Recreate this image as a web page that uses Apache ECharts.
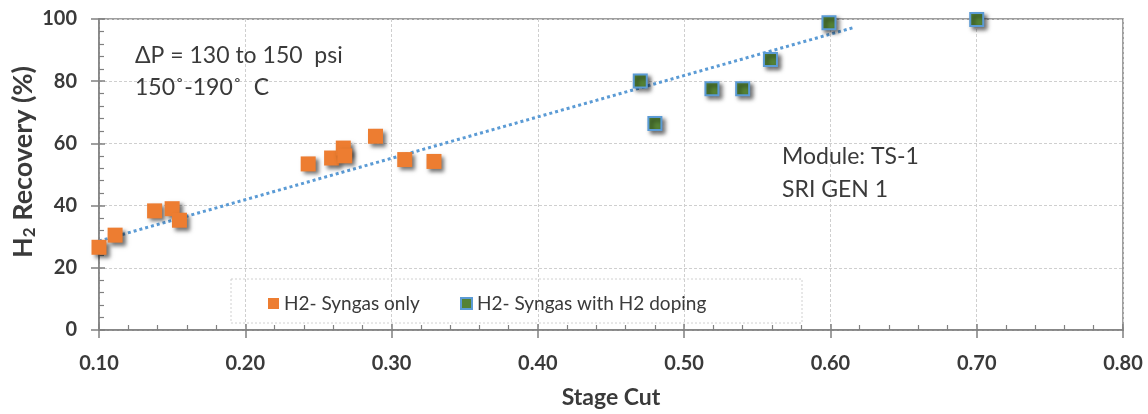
<!DOCTYPE html>
<html>
<head>
<meta charset="utf-8">
<script src="https://cdn.jsdelivr.net/npm/echarts@6/dist/echarts.min.js"></script>
<style>html,body{margin:0;padding:0;background:#fff;}#c{width:1148px;height:414px;}</style>
</head>
<body>
<div id="c"></div>
<script>
// Data
const syngasX = [0.100, 0.111, 0.138, 0.150, 0.155, 0.243, 0.259, 0.267, 0.268, 0.289, 0.309, 0.329];
const syngasY = [26.6, 30.5, 38.3, 39.0, 35.3, 53.4, 55.3, 58.5, 56.0, 62.3, 54.8, 54.2];
const dopingX = [0.470, 0.480, 0.519, 0.540, 0.559, 0.599, 0.700];
const dopingY = [80.1, 66.4, 77.6, 77.6, 87.0, 98.8, 99.8];
const trendX = [0.100, 0.617];
const trendY = [28.6, 97.4];
const xTicks = ['0.10','0.20','0.30','0.40','0.50','0.60','0.70','0.80'];
const yTicks = ['0','20','40','60','80','100'];

const zip = (a, b) => a.map((v, i) => [v, b[i]]);
const FONT = 'Lato';
const TXT = '#3a3a3a';
const AX = '#808080';
const shadow = {shadowBlur: 4, shadowColor: 'rgba(0,0,0,0.55)', shadowOffsetX: 3, shadowOffsetY: 3};

const chart = echarts.init(document.getElementById('c'));
chart.setOption({
  animation: false,
  backgroundColor: '#fff',
  grid: {left: 99, right: 25, top: 19, bottom: 82, show: true, borderColor: AX, borderWidth: 1.5, backgroundColor: 'transparent'},
  xAxis: [{
    type: 'value', min: 0.1, max: 0.8, interval: 0.1,
    axisLine: {show: true, lineStyle: {color: AX, width: 1.5}},
    axisTick: {show: true, inside: true, length: 6, lineStyle: {color: AX, width: 1.5}},
    minorTick: {show: true, splitNumber: 5, length: 5, lineStyle: {color: AX, width: 1.2}},
    splitLine: {show: true, lineStyle: {color: '#cfcfcf', type: [3, 2], width: 1}},
    axisLabel: {margin: 24, fontFamily: FONT, fontWeight: 'bold', fontSize: 20, color: TXT,
      formatter: v => xTicks[Math.round((v - 0.1) * 10)] || ''},
    name: 'Stage Cut', nameLocation: 'middle', nameGap: 56,
    nameTextStyle: {fontFamily: FONT, fontWeight: 'bold', fontSize: 23, color: TXT}
  }, {
    type: 'value', min: 0.1, max: 0.8, interval: 0.1, position: 'bottom',
    axisLine: {show: false}, axisLabel: {show: false}, splitLine: {show: false},
    axisTick: {show: true, inside: false, length: 8, lineStyle: {color: AX, width: 1.5}}
  }],
  yAxis: [{
    type: 'value', min: 0, max: 100, interval: 20,
    axisLine: {show: true, lineStyle: {color: AX, width: 1.5}},
    axisTick: {show: true, inside: true, length: 6, lineStyle: {color: AX, width: 1.5}},
    minorTick: {show: true, splitNumber: 5, length: 5, lineStyle: {color: AX, width: 1.2}},
    splitLine: {show: true, lineStyle: {color: '#cfcfcf', type: [3, 2], width: 1}},
    axisLabel: {margin: 22, fontFamily: FONT, fontWeight: 'bold', fontSize: 20, color: TXT,
      formatter: v => yTicks[Math.round(v / 20)] || ''}
  }, {
    type: 'value', min: 0, max: 100, interval: 20, position: 'left',
    axisLine: {show: false}, axisLabel: {show: false}, splitLine: {show: false},
    axisTick: {show: true, inside: false, length: 8, lineStyle: {color: AX, width: 1.5}}
  }],
  legend: [{
    data: ['H2- Syngas only'], left: 268, top: 294, padding: 0,
    icon: 'rect', itemWidth: 11, itemHeight: 11,
    itemStyle: {shadowBlur: 0, shadowOffsetX: 0, shadowOffsetY: 0},
    textStyle: {fontFamily: FONT, fontSize: 19, color: TXT}
  }, {
    data: ['H2- Syngas with H2 doping'], left: 460, top: 294, padding: 0,
    icon: 'rect', itemWidth: 11, itemHeight: 11,
    itemStyle: {shadowBlur: 0, shadowOffsetX: 0, shadowOffsetY: 0},
    textStyle: {fontFamily: FONT, fontSize: 19, color: TXT}
  }],
  graphic: [
    {type: 'rect', shape: {x: 231, y: 279, width: 571, height: 44}, z: 3,
      style: {fill: 'none', stroke: '#d0d0d0', lineWidth: 1, lineDash: [2, 2]}},
    {type: 'text', x: 23, y: 162, rotation: Math.PI / 2, z: 5,
      style: {
        text: '{a|H}{s|2}{a| Recovery (%)}', align: 'center', verticalAlign: 'middle',
        rich: {
          a: {fontFamily: FONT, fontWeight: 'bold', fontSize: 27, fill: TXT},
          s: {fontFamily: FONT, fontWeight: 'bold', fontSize: 17, fill: TXT, padding: [13, 0, 0, 0]}
        }
      }},
    {type: 'text', left: 135, top: 44, z: 5,
      style: {text: 'ΔP = 130 to 150  psi', fontFamily: FONT, fontSize: 23, fill: TXT}},
    {type: 'text', left: 135, top: 76, z: 5,
      style: {text: '150˚-190˚  C', fontFamily: FONT, fontSize: 23, fill: TXT}},
    {type: 'text', left: 782, top: 145, z: 5,
      style: {text: 'Module: TS-1', fontFamily: FONT, fontSize: 23, fill: TXT}},
    {type: 'text', left: 782, top: 178, z: 5,
      style: {text: 'SRI GEN 1', fontFamily: FONT, fontSize: 23, fill: TXT}}
  ],
  series: [{
    name: 'trend', type: 'line', data: zip(trendX, trendY), symbol: 'none', z: 1,
    lineStyle: {color: '#5b9bd5', width: 3, type: [3, 3]}, silent: true
  }, {
    name: 'H2- Syngas only', type: 'scatter', data: zip(syngasX, syngasY), symbol: 'rect', symbolSize: 15, z: 3,
    itemStyle: Object.assign({color: '#ed7d31', opacity: 1}, shadow)
  }, {
    name: 'H2- Syngas with H2 doping', type: 'scatter', data: zip(dopingX, dopingY), symbol: 'rect', symbolSize: 13, z: 3,
    itemStyle: Object.assign({color: '#548235', borderColor: '#5b9bd5', borderWidth: 2, opacity: 1}, shadow)
  }]
});
</script>
</body>
</html>
